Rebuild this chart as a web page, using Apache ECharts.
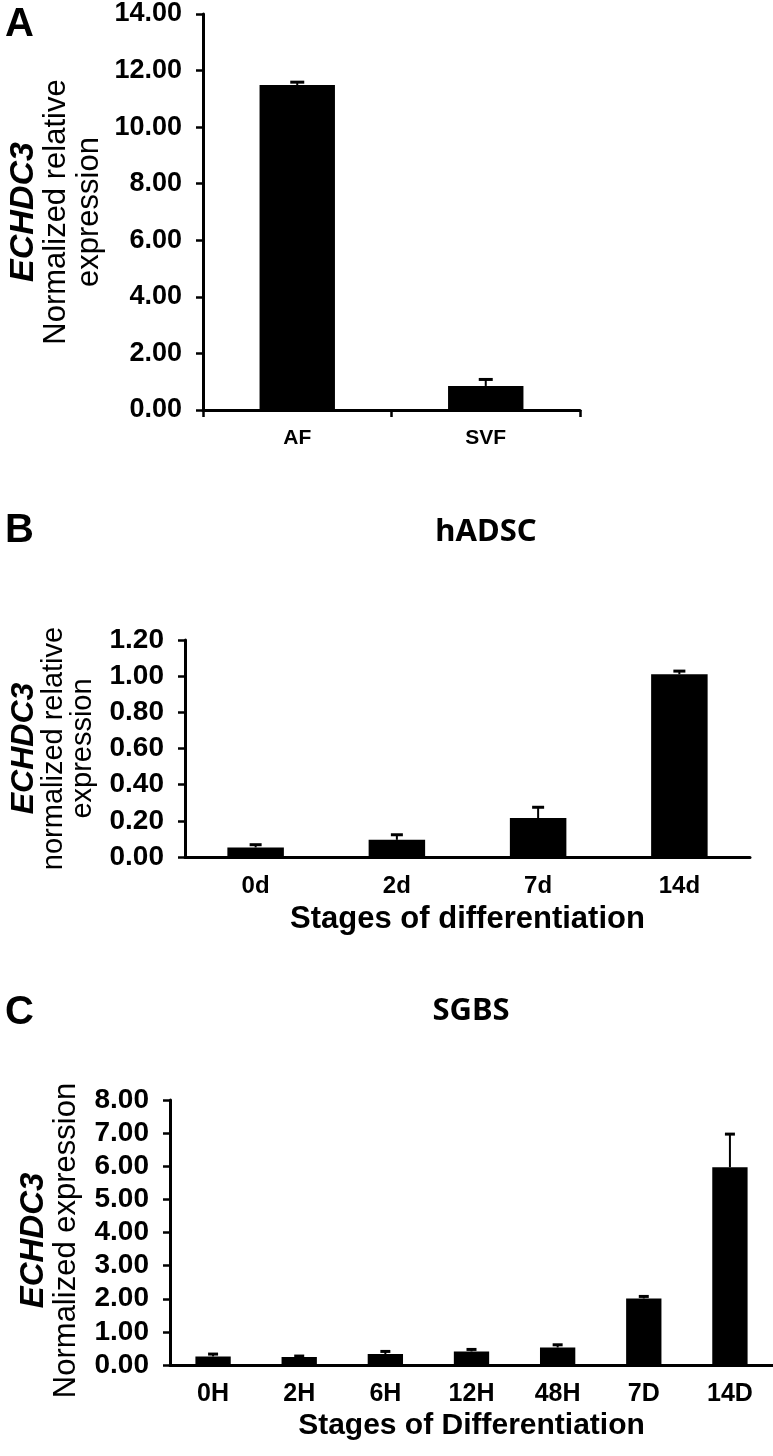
<!DOCTYPE html>
<html>
<head>
<meta charset="utf-8">
<script src="https://cdn.jsdelivr.net/npm/echarts@6/dist/echarts.min.js"></script>
<style>
  * { margin: 0; padding: 0; }
  body { background: #fff; }
  #chart-container { width: 773px; height: 1456px; }
</style>
</head>
<body>
<div id="chart-container"></div>
<script>
  // panel A: tissue fractions
  var catA = ['AF', 'SVF']
  var valA = [11.49, 0.85]
  var errA = [0.1, 0.23]
  // panel B: hADSC differentiation
  var catB = ['0d', '2d', '7d', '14d']
  var valB = [0.053, 0.095, 0.215, 1.01]
  var errB = [0.015, 0.028, 0.06, 0.018]
  // panel C: SGBS differentiation
  var catC = ['0H', '2H', '6H', '12H', '48H', '7D', '14D']
  var valC = [0.26, 0.24, 0.33, 0.41, 0.53, 2.01, 5.97]
  var errC = [0.07, 0.03, 0.08, 0.06, 0.08, 0.06, 1.0]

  var ARIAL = "'Liberation Sans', Arial, sans-serif"
  var TITLE = "'Noto Sans', 'Open Sans', sans-serif"

  var chartDom = document.getElementById('chart-container')
  var myChart = echarts.init(chartDom, null, { renderer: 'canvas' })

  function errData(vals, errs) {
    return vals.map(function (v, i) {
      return [i, v, v + errs[i]]
    })
  }

  function errRender(cap) {
    return function (params, api) {
      var p0 = api.coord([api.value(0), api.value(1)])
      var p1 = api.coord([api.value(0), api.value(2)])
      return {
        type: 'group',
        children: [
          {
            type: 'line',
            shape: { x1: p0[0], y1: p0[1], x2: p1[0], y2: p1[1] },
            style: { stroke: '#000', lineWidth: 2 },
          },
          {
            type: 'line',
            shape: { x1: p1[0] - cap, y1: p1[1], x2: p1[0] + cap, y2: p1[1] },
            style: { stroke: '#000', lineWidth: 3 },
          },
        ],
      }
    }
  }

  function yAxis(idx, max, interval, name, nameGap, size, rich, pad) {
    return {
      type: 'value',
      gridIndex: idx,
      min: 0,
      max: max,
      interval: interval,
      splitLine: { show: false },
      axisLine: { show: true, lineStyle: { color: '#000', width: 3 } },
      axisTick: { show: true, length: 7, lineStyle: { color: '#000', width: 2.5 } },
      axisLabel: {
        margin: 21,
        color: '#000',
        fontFamily: ARIAL,
        fontWeight: 'bold',
        fontSize: size,
        formatter: function (v) { return v.toFixed(2) },
      },
      name: name,
      nameLocation: 'middle',
      nameRotate: 90,
      nameGap: nameGap,
      nameTextStyle: { rich: rich, padding: pad },
    }
  }

  var option = {
    animation: false,
    backgroundColor: '#fff',
    grid: [
      { left: 203, top: 14, width: 377, height: 396 },
      { left: 185, top: 640, width: 565, height: 217 },
      { left: 170, top: 1100, width: 603, height: 265 },
    ],
    xAxis: [
      {
        type: 'category',
        gridIndex: 0,
        data: catA,
        axisLine: { lineStyle: { color: '#000', width: 3 } },
        axisTick: { show: true, length: 7, lineStyle: { color: '#000', width: 2.5 } },
        axisLabel: { margin: 18, color: '#000', fontFamily: ARIAL, fontWeight: 'bold', fontSize: 21 },
      },
      {
        type: 'category',
        gridIndex: 1,
        data: catB,
        axisLine: { lineStyle: { color: '#000', width: 3 } },
        axisTick: { show: false },
        axisLabel: { margin: 17, color: '#000', fontFamily: ARIAL, fontWeight: 'bold', fontSize: 24 },
        name: 'Stages of differentiation',
        nameLocation: 'middle',
        nameGap: 47,
        nameTextStyle: { color: '#000', fontFamily: ARIAL, fontWeight: 'bold', fontSize: 31 },
      },
      {
        type: 'category',
        gridIndex: 2,
        data: catC,
        axisLine: { lineStyle: { color: '#000', width: 3 } },
        axisTick: { show: false },
        axisLabel: { margin: 17, color: '#000', fontFamily: ARIAL, fontWeight: 'bold', fontSize: 25 },
        name: 'Stages of Differentiation',
        nameLocation: 'middle',
        nameGap: 46,
        nameTextStyle: { color: '#000', fontFamily: ARIAL, fontWeight: 'bold', fontSize: 30 },
      },
    ],
    yAxis: [
      yAxis(0, 14, 2, '{i|ECHDC3}\n{n|Normalized relative}\n{n|expression}', 97, 27, {
        i: { fontFamily: ARIAL, fontStyle: 'italic', fontWeight: 'bold', fontSize: 34, lineHeight: 33, color: '#000' },
        n: { fontFamily: ARIAL, fontSize: 31, lineHeight: 33, color: '#000' },
      }, 0),
      yAxis(1, 1.2, 0.2, '{i|ECHDC3}\n{n|normalized relative}\n{n|expression}', 88, 28, {
        i: { fontFamily: ARIAL, fontStyle: 'italic', fontWeight: 'bold', fontSize: 32, lineHeight: 29, color: '#000' },
        n: { fontFamily: ARIAL, fontSize: 29, lineHeight: 29, color: '#000' },
      }, 0),
      yAxis(2, 8, 1, '{i|ECHDC3}\n{n|Normalized expression}', 88, 28, {
        i: { fontFamily: ARIAL, fontStyle: 'italic', fontWeight: 'bold', fontSize: 33, lineHeight: 32, color: '#000' },
        n: { fontFamily: ARIAL, fontSize: 31, lineHeight: 32, color: '#000' },
      }, [0, 16, 0, 0]),
    ],
    graphic: [
      { type: 'text', left: 5, top: 5, style: { text: 'A', font: 'bold 40px ' + ARIAL, fill: '#000' } },
      { type: 'text', left: 5, top: 511, style: { text: 'B', font: 'bold 40px ' + ARIAL, fill: '#000' } },
      { type: 'text', left: 5, top: 993, style: { text: 'C', font: 'bold 40px ' + ARIAL, fill: '#000' } },
      { type: 'text', x: 486, y: 532, style: { text: 'hADSC', font: 'bold 31px ' + TITLE, fill: '#000', align: 'center', verticalAlign: 'middle' } },
      { type: 'text', x: 471, y: 1011, style: { text: 'SGBS', font: 'bold 31px ' + TITLE, fill: '#000', align: 'center', verticalAlign: 'middle' } },
    ],
    series: [
      { type: 'bar', xAxisIndex: 0, yAxisIndex: 0, data: valA, barWidth: '40%', itemStyle: { color: '#000' } },
      { type: 'custom', xAxisIndex: 0, yAxisIndex: 0, data: errData(valA, errA), renderItem: errRender(7), z: 3 },
      { type: 'bar', xAxisIndex: 1, yAxisIndex: 1, data: valB, barWidth: '40%', itemStyle: { color: '#000' } },
      { type: 'custom', xAxisIndex: 1, yAxisIndex: 1, data: errData(valB, errB), renderItem: errRender(6), z: 3 },
      { type: 'bar', xAxisIndex: 2, yAxisIndex: 2, data: valC, barWidth: '41%', itemStyle: { color: '#000' } },
      { type: 'custom', xAxisIndex: 2, yAxisIndex: 2, data: errData(valC, errC), renderItem: errRender(5), z: 3 },
    ],
  }

  myChart.setOption(option)
  window.addEventListener('resize', myChart.resize)
</script>
</body>
</html>
